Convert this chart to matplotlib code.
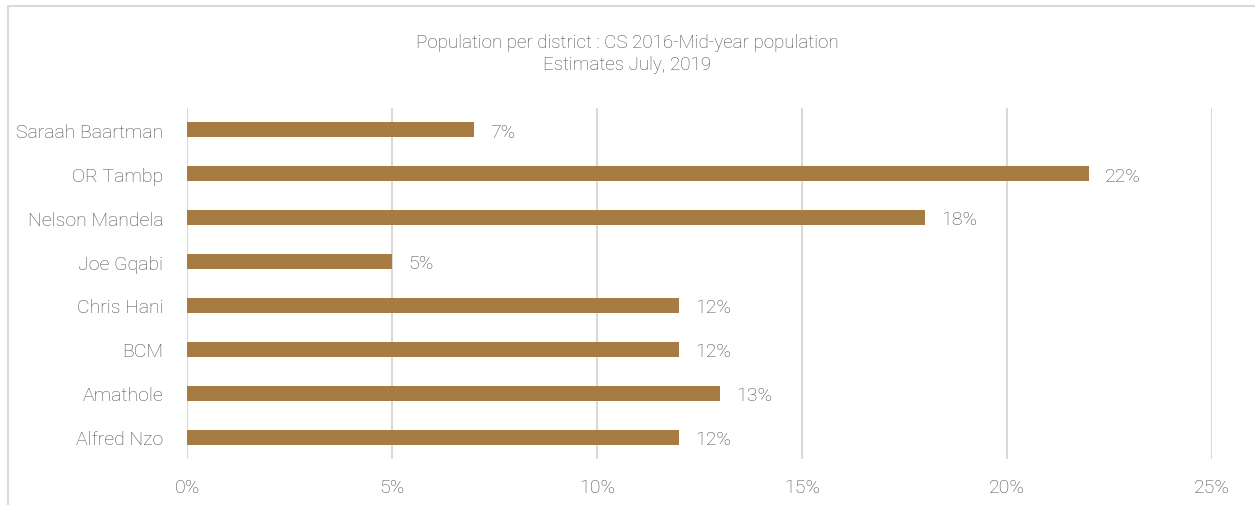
import matplotlib
matplotlib.use("Agg")
import matplotlib.pyplot as plt
from matplotlib.patches import Rectangle
from matplotlib.ticker import FuncFormatter

# district population shares (%), listed bottom to top
districts = ["Alfred Nzo", "Amathole", "BCM", "Chris Hani", "Joe Gqabi",
             "Nelson Mandela", "OR Tambp", "Saraah Baartman"]
shares = [12, 13, 12, 12, 5, 18, 22, 7]
x_ticks = [0, 5, 10, 15, 20, 25]

plt.rcParams['font.family'] = ['Roboto', 'DejaVu Sans']
plt.rcParams['font.weight'] = 'light'
text_col = '#4D4D4D'
bar_col = '#A67C42'

fig = plt.figure(figsize=(12.55, 5.06), dpi=100)
ax = fig.add_axes([0.149, 0.0909, 0.8167, 0.6937])

ypos = range(len(districts))
ax.barh(ypos, shares, height=0.34, color=bar_col, zorder=3)
for y, v in zip(ypos, shares):
    ax.text(v + 0.4, y - 0.04, f"{v}%", va='center', ha='left', fontsize=14, color=text_col)

ax.set_xlim(0, 25)
ax.set_ylim(-0.5, len(districts) - 0.5)
ax.set_xticks(x_ticks)
ax.xaxis.set_major_formatter(FuncFormatter(lambda v, p: f"{v:.0f}%"))
ax.set_yticks(list(ypos))
ax.set_yticklabels(districts)
ax.tick_params(axis='both', length=0, labelsize=14, labelcolor=text_col)
ax.tick_params(axis='x', pad=14)
ax.tick_params(axis='y', pad=17)
ax.grid(axis='x', color='#D9D9D9', linewidth=1.5, zorder=0)
for s in ax.spines.values():
    s.set_visible(False)

fig.text(0.5, 0.893, "Population per district : CS 2016-Mid-year population\nEstimates July, 2019",
         ha='center', va='center', fontsize=13.5, color=text_col, linespacing=1.3)

# chart frame
fig.patches.append(Rectangle((8 / 1255, -0.1), 1.2, 1 - 7 / 506 + 0.1, transform=fig.transFigure,
                             fill=False, edgecolor='#D9D9D9', linewidth=1.5))

fig.savefig("out.png", dpi=100)
